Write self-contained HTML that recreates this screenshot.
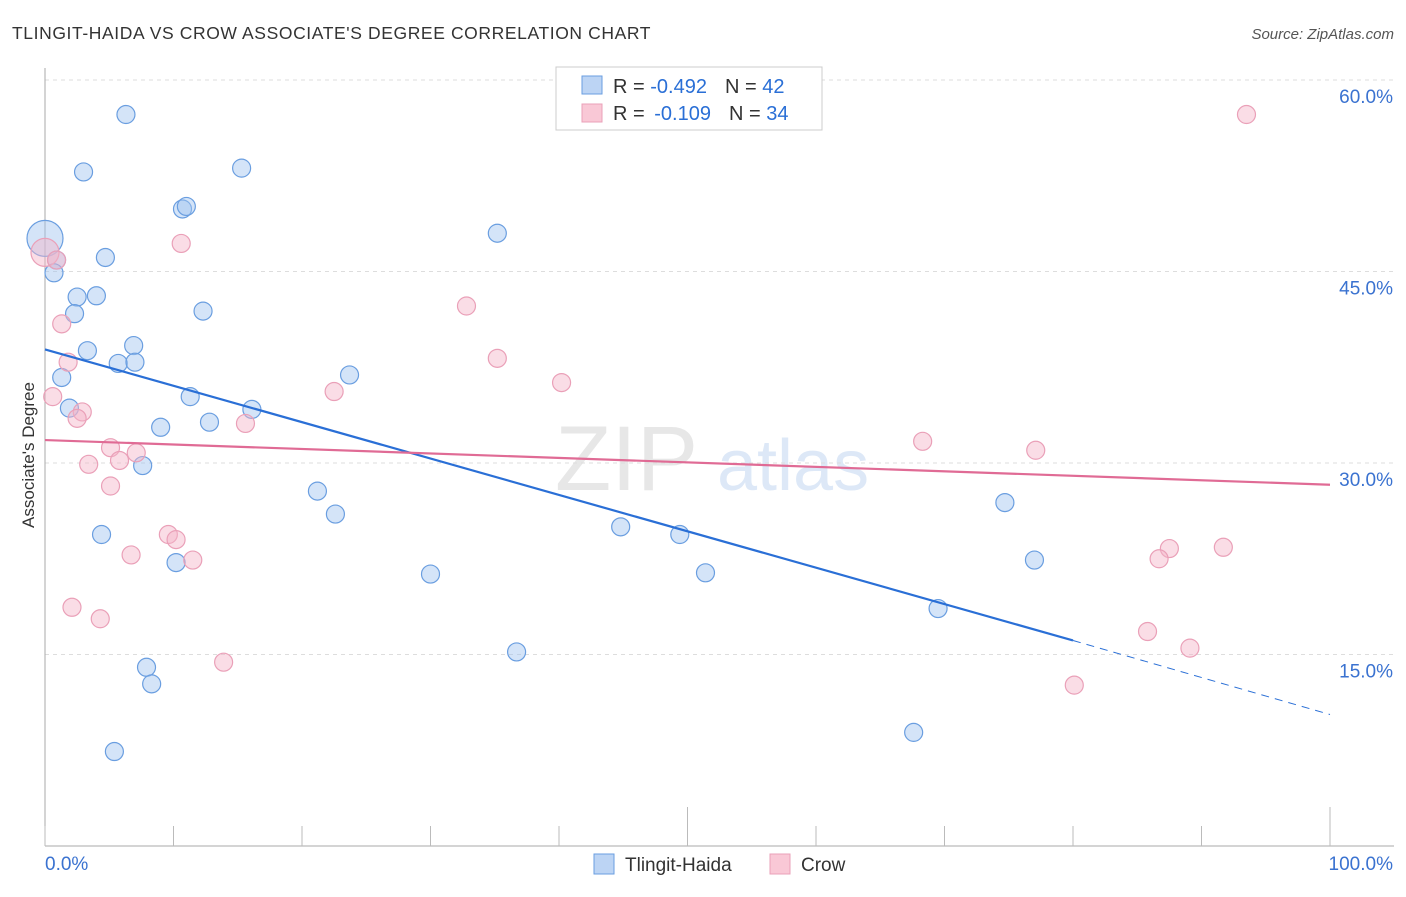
<!DOCTYPE html>
<html><head><meta charset="utf-8"><style>
body{margin:0;background:#fff;font-family:"Liberation Sans",sans-serif}
svg text{font-family:"Liberation Sans",sans-serif}
</style></head><body>
<svg id="c" width="1406" height="892">
<text x="12" y="39" font-size="17.5" fill="#333" letter-spacing="0.6">TLINGIT-HAIDA VS CROW ASSOCIATE'S DEGREE CORRELATION CHART</text>
<text x="1394" y="39" font-size="15" fill="#555" font-style="italic" text-anchor="end">Source: ZipAtlas.com</text>
<g><text x="555" y="490" font-size="92" fill="#ddd" font-family="Liberation Serif" opacity="0.7">ZIP</text><text x="717" y="490" font-size="72" fill="#c8daf2" opacity="0.6">atlas</text></g>
<g id="grid"></g><g id="axes"></g><g id="pts"></g><g id="trend"></g>
<g>
<rect x="556" y="67" width="266" height="63" fill="#fff" stroke="#ccc"/>
<rect x="582" y="76" width="20" height="18" fill="#bcd4f4" stroke="#6a9ee0"/>
<rect x="582" y="104" width="20" height="18" fill="#f9c8d6" stroke="#eaa0b8"/>
<text x="613" y="93" font-size="20" fill="#333">R = <tspan fill="#2a6fd6">-0.492</tspan><tspan dx="18">N = </tspan><tspan fill="#2a6fd6">42</tspan></text>
<text x="613" y="120" font-size="20" fill="#333">R = <tspan dx="4" fill="#2a6fd6">-0.109</tspan><tspan dx="18">N = </tspan><tspan fill="#2a6fd6">34</tspan></text>
</g>
<g>
<rect x="594" y="854" width="20" height="20" fill="#bcd4f4" stroke="#6a9ee0"/>
<text x="625" y="871" font-size="19" fill="#333">Tlingit-Haida</text>
<rect x="770" y="854" width="20" height="20" fill="#f9c8d6" stroke="#eaa0b8"/>
<text x="801" y="871" font-size="19" fill="#333">Crow</text>
</g>
<text transform="translate(34,455) rotate(-90)" font-size="17" fill="#333" text-anchor="middle">Associate's Degree</text>
</svg>
<script>
const yTicks=[15,30,45,60];
const yTickLabels=["15.0%","30.0%","45.0%","60.0%"];
const blueX=[6.3,3.0,15.3,10.7,11.0,35.2,0,4.7,0.9,0.7,2.5,4.0,2.3,12.3,3.3,6.9,5.7,7.0,1.3,23.7,11.3,1.9,16.1,12.8,9.0,7.6,21.2,22.6,44.8,49.4,4.4,10.2,30.0,51.4,74.7,77.0,69.5,36.7,7.9,8.3,5.4,67.6];
const blueY=[57.3,52.8,53.1,49.9,50.1,48.0,47.6,46.1,45.9,44.9,43.0,43.1,41.7,41.9,38.8,39.2,37.8,37.9,36.7,36.9,35.2,34.3,34.2,33.2,32.8,29.8,27.8,26.0,25.0,24.4,24.4,22.2,21.3,21.4,26.9,22.4,18.6,15.2,14.0,12.7,7.4,8.9];
const pinkX=[93.5,10.6,0,0.9,1.3,32.8,35.2,1.8,40.2,22.5,0.6,2.9,2.5,15.6,68.3,77.1,5.1,5.8,3.4,7.1,5.1,9.6,10.2,6.7,11.5,87.5,91.7,86.7,2.1,4.3,85.8,89.1,13.9,80.1];
const pinkY=[57.3,47.2,46.5,45.9,40.9,42.3,38.2,37.9,36.3,35.6,35.2,34.0,33.5,33.1,31.7,31.0,31.2,30.2,29.9,30.8,28.2,24.4,24.0,22.8,22.4,23.3,23.4,22.5,18.7,17.8,16.8,15.5,14.4,12.6];
const blueTrend=[38.9,16.1,10.3];const pinkTrend=[31.8,28.3];
const X=v=>45+v*12.85, Y=v=>846-v*12.766;
const NS="http://www.w3.org/2000/svg";
function mk(t,a,p){const e=document.createElementNS(NS,t);for(const k in a)e.setAttribute(k,a[k]);p.appendChild(e);return e;}
const g=document.getElementById('grid'),ax=document.getElementById('axes');
yTicks.forEach((v,i)=>{const l=mk('line',{x1:45,x2:1394,y1:Y(v),y2:Y(v),stroke:'#ddd','stroke-dasharray':'4,4'},g);

const t=mk('text',{x:1393,y:Y(v)+23,'font-size':19,fill:'#3a72d0','text-anchor':'end'},ax);t.textContent=yTickLabels[i];
});
let a=mk('line',{x1:45,x2:45,y1:68,y2:846,stroke:'#aaa'},ax);
a=mk('line',{x1:45,x2:1394,y1:846,y2:846,stroke:'#aaa'},ax);
for(let i=0;i<=10;i++){const t=mk('line',{x1:X(i*10),x2:X(i*10),y1:(i==5||i==10)?807:826,y2:846,stroke:'#bbb'},ax);
}
let t=mk('text',{x:45,y:870,'font-size':19,fill:'#3a72d0'},ax);t.textContent='0.0%';
t=mk('text',{x:1393,y:870,'font-size':19,fill:'#3a72d0','text-anchor':'end'},ax);t.textContent='100.0%';
const P=document.getElementById('pts');
blueX.forEach((x,i)=>{const c=mk('circle',{cx:X(x),cy:Y(blueY[i]),r:i==6?18:9,fill:'rgba(160,195,240,0.45)',stroke:'#6a9ee0','stroke-width':1.2},P);
});
pinkX.forEach((x,i)=>{const c=mk('circle',{cx:X(x),cy:Y(pinkY[i]),r:i==2?14:9,fill:'rgba(245,180,200,0.45)',stroke:'#eaa0b8','stroke-width':1.2},P);
});
const T=document.getElementById('trend');
let l=mk('line',{x1:X(0),y1:Y(blueTrend[0]),x2:X(80),y2:Y(blueTrend[1]),stroke:'#2a6fd6','stroke-width':2.2},T);

l=mk('line',{x1:X(80),y1:Y(blueTrend[1]),x2:X(100),y2:Y(blueTrend[2]),stroke:'#2a6fd6','stroke-width':1,'stroke-dasharray':'8,6'},T);

l=mk('line',{x1:X(0),y1:Y(pinkTrend[0]),x2:X(100),y2:Y(pinkTrend[1]),stroke:'#e06b95','stroke-width':2.2},T);

</script>
</body></html>
